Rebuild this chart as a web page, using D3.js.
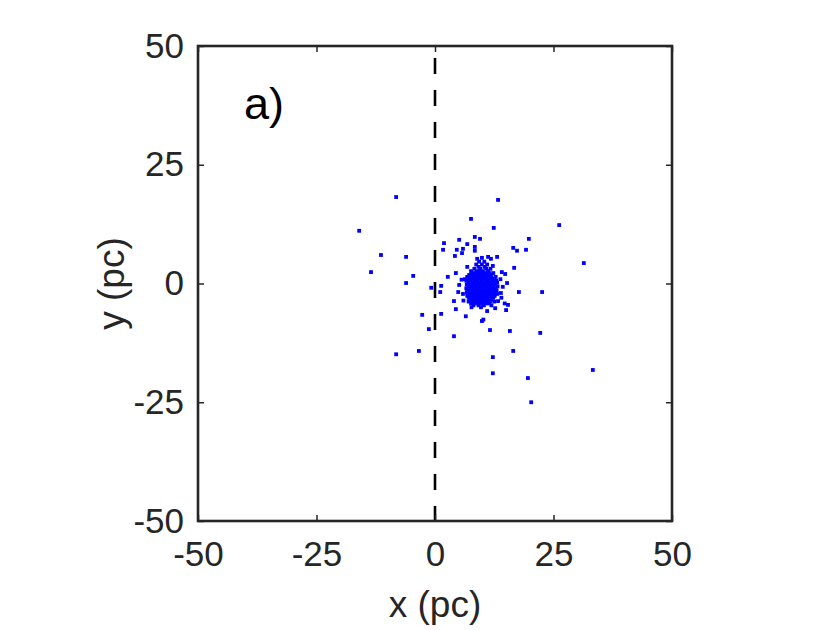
<!DOCTYPE html>
<html>
<head>
<meta charset="utf-8">
<script src="https://cdn.jsdelivr.net/npm/d3@7"></script>
<style>
  body { margin: 0; background: #fff; }
  text { font-family: "Liberation Sans", Arial, Helvetica, sans-serif; }
</style>
</head>
<body>
<div id="chart"></div>
<script>
// tick values on both axes
var tickValues = [-50, -25, 0, 25, 50];

// scattered points away from the core, [x, y] in pc
var outlierPoints = [
  [-8.2, 18.2], [-16.0, 11.1], [-11.4, 6.0], [-6.1, 5.6], [-13.5, 2.4], [-4.6, 1.6],
  [-6.1, 0.1], [-0.8, -0.9], [1.3, -0.5], [1.1, -1.8], [-2.7, -6.6], [1.3, -6.4],
  [-1.3, -9.6], [4.0, -11.1], [-8.2, -14.9], [-3.4, -14.2], [6.5, -6.9], [9.9, -7.9],
  [11.6, -9.8], [15.8, -10.0], [22.2, -10.4], [16.5, -14.2], [12.2, -15.5], [12.2, -18.9],
  [19.6, -19.9], [33.3, -18.2], [20.3, -25.0], [17.7, -1.8], [22.6, -1.8], [4.9, -1.8],
  [4.0, -3.7], [4.4, -5.4], [15.0, -5.6], [15.4, -4.5], [11.0, -5.8], [12.7, -5.2],
  [5.1, -0.3], [15.2, 0.1], [14.3, -0.7], [13.3, -3.7], [13.9, -2.0], [5.9, -2.2],
  [13.3, 17.6], [7.6, 13.6], [12.4, 11.7], [26.2, 12.3], [19.8, 9.4], [1.9, 8.5],
  [5.1, 9.2], [6.8, 8.3], [8.4, 9.8], [9.5, 9.4], [8.4, 7.7], [8.4, 6.9],
  [1.7, 7.1], [4.6, 7.1], [5.9, 7.3], [5.7, 6.4], [4.2, 5.8], [16.5, 7.5],
  [17.3, 6.9], [19.2, 7.1], [31.4, 4.3], [8.9, 5.2], [9.9, 5.4], [11.2, 5.6],
  [11.8, 5.2], [13.1, 5.6], [16.7, 3.3], [6.8, 3.5], [4.4, 2.2], [2.7, 1.4],
  [14.8, 2.0], [14.1, 2.4], [12.2, 3.7], [10.2, -7.6], [14.7, -4.2], [6.3, 0.9],
  [5.6, 0.8], [6.0, -3.6], [14.0, -3.0], [13.8, 0.9]
];

// dense core around (10, -1): rows of [y, [x values]]
var clusterRows = [
  [4.6, [9.3, 10.4]],
  [4.0, [8.7, 9.9, 11.0]],
  [3.5, [9.2, 10.5]],
  [3.1, [8.3, 9.6, 10.8, 11.7]],
  [2.6, [7.6, 8.8, 9.4, 10.1, 11.2]],
  [2.2, [8.1, 9.0, 9.8, 10.6, 11.5, 12.3]],
  [1.8, [7.2, 7.9, 8.7, 9.5, 10.3, 11.0, 11.8]],
  [1.4, [6.8, 7.5, 8.2, 8.9, 9.7, 10.4, 11.2, 11.9, 12.8]],
  [1.0, [7.2, 8.0, 8.8, 9.5, 10.3, 11.0, 11.8, 12.5]],
  [0.6, [6.6, 7.5, 8.3, 9.0, 9.8, 10.6, 11.3, 12.1, 12.9]],
  [0.2, [7.0, 7.8, 8.5, 9.3, 10.0, 10.8, 11.5, 12.3, 13.1]],
  [-0.2, [6.7, 7.4, 8.2, 8.9, 9.7, 10.4, 11.2, 11.9, 12.7]],
  [-0.6, [7.0, 7.8, 8.5, 9.3, 10.0, 10.8, 11.6, 12.3, 13.2]],
  [-1.0, [6.6, 7.4, 8.1, 8.9, 9.6, 10.4, 11.2, 11.9, 12.7]],
  [-1.4, [7.0, 7.7, 8.5, 9.3, 10.0, 10.8, 11.5, 12.3, 13.0]],
  [-1.8, [6.7, 7.4, 8.2, 8.9, 9.7, 10.4, 11.2, 11.9, 12.7]],
  [-2.2, [7.0, 7.8, 8.5, 9.3, 10.0, 10.8, 11.6, 12.3, 13.1]],
  [-2.6, [6.8, 7.5, 8.2, 8.9, 9.7, 10.4, 11.2, 11.9, 12.6]],
  [-3.0, [7.1, 7.8, 8.6, 9.3, 10.1, 10.8, 11.5, 12.3]],
  [-3.4, [7.4, 8.2, 8.9, 9.7, 10.4, 11.2, 11.9]],
  [-3.8, [7.1, 7.8, 8.6, 9.3, 10.1, 10.8, 11.6, 12.5]],
  [-4.2, [7.6, 8.4, 9.1, 9.9, 10.7, 11.4]],
  [-4.6, [8.1, 9.2, 10.3, 11.9]],
  [-5.0, [7.7, 9.7]]
];

var panelLabel = "a)";
var xLabel = "x (pc)";
var yLabel = "y (pc)";

var svgWidth = 840;
var svgHeight = 630;
var margin = {top: 46, right: 168, bottom: 109, left: 198};
var plotW = svgWidth - margin.left - margin.right;
var plotH = svgHeight - margin.top - margin.bottom;
var axisColor = "#262626";

var svg = d3.select("#chart")
            .append("svg")
            .attr("width", svgWidth)
            .attr("height", svgHeight);

var g = svg.append("g")
           .attr("transform", `translate(${margin.left}, ${margin.top})`);

var xScale = d3.scaleLinear().domain([-50, 50]).range([0, plotW]);
var yScale = d3.scaleLinear().domain([-50, 50]).range([plotH, 0]);

var allPoints = outlierPoints.concat(
  clusterRows.flatMap(r => r[1].map(x => [x, r[0]]))
);

// dashed line at x = 0
g.append("line")
 .attr("x1", xScale(0)).attr("x2", xScale(0))
 .attr("y1", yScale(50)).attr("y2", yScale(-50))
 .attr("stroke", "#000")
 .attr("stroke-width", 2.6)
 .attr("stroke-dasharray", "16,16")
 .attr("stroke-dashoffset", 20);

// points
var ms = 3.8;
g.selectAll(".pt")
 .data(allPoints)
 .enter()
 .append("rect")
 .attr("class", "pt")
 .attr("x", d => xScale(d[0]) - ms / 2)
 .attr("y", d => yScale(d[1]) - ms / 2)
 .attr("width", ms)
 .attr("height", ms)
 .attr("fill", "#0000ff");

// plain hyphen minus like the original
var fmt = d => String(d);

// axes: ticks point inward on all four sides
function styleAxis(sel) {
  sel.select(".domain").remove();
  sel.selectAll(".tick line").attr("stroke", axisColor).attr("stroke-width", 1.5);
  sel.selectAll(".tick text")
     .attr("fill", axisColor)
     .style("font-size", "35px");
}

var xAxis = g.append("g")
  .attr("transform", `translate(0, ${plotH})`)
  .call(d3.axisBottom(xScale).tickValues(tickValues).tickSize(-6).tickPadding(20).tickFormat(fmt))
  .call(styleAxis);
xAxis.selectAll(".tick text").attr("dy", "0.71em");

g.append("g")
  .call(d3.axisTop(xScale).tickValues(tickValues).tickSize(-6).tickFormat(""))
  .call(styleAxis);

g.append("g")
  .call(d3.axisLeft(yScale).tickValues(tickValues).tickSize(-6).tickPadding(14).tickFormat(fmt))
  .call(styleAxis);

g.append("g")
  .attr("transform", `translate(${plotW}, 0)`)
  .call(d3.axisRight(yScale).tickValues(tickValues).tickSize(-6).tickFormat(""))
  .call(styleAxis);

// box
g.append("rect")
 .attr("x", 0).attr("y", 0)
 .attr("width", plotW).attr("height", plotH)
 .attr("fill", "none")
 .attr("stroke", axisColor)
 .attr("stroke-width", 2.6);

// labels
g.append("text")
 .attr("x", plotW / 2)
 .attr("y", plotH + 96)
 .attr("text-anchor", "middle")
 .attr("fill", axisColor)
 .style("font-size", "37px")
 .text(xLabel);

g.append("text")
 .attr("transform", `translate(${-74}, ${plotH / 2}) rotate(-90)`)
 .attr("text-anchor", "middle")
 .attr("fill", axisColor)
 .style("font-size", "37px")
 .text(yLabel);

g.append("text")
 .attr("x", 46)
 .attr("y", 73)
 .attr("fill", "#000")
 .style("font-size", "45px")
 .text(panelLabel);
</script>
</body>
</html>
